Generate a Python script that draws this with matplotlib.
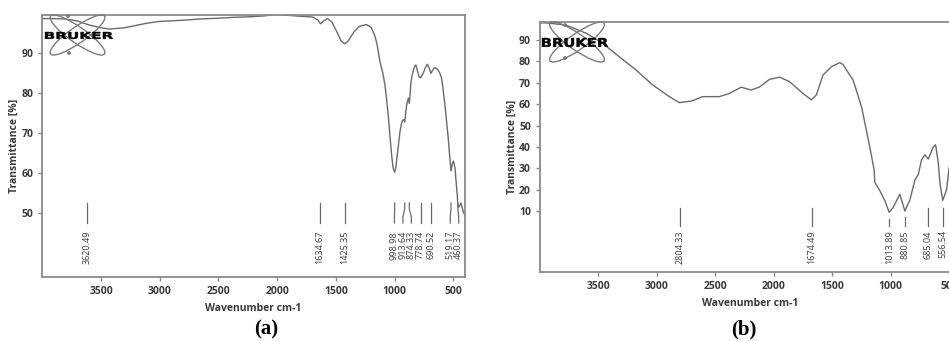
import numpy as np
import matplotlib.pyplot as plt
from matplotlib.patches import Ellipse, Circle, PathPatch
from matplotlib.textpath import TextPath
from matplotlib.font_manager import FontProperties
from matplotlib.transforms import Affine2D

# spectrum (a)
wn_a = [4000, 3900, 3800, 3700, 3600, 3500, 3430, 3300, 3200, 3100, 3000, 2800,
        2660, 2500, 2380, 2200, 2100, 2010, 1900, 1810, 1700, 1655, 1630, 1605,
        1570, 1535, 1495, 1455, 1425, 1395, 1345, 1300, 1238, 1200, 1170, 1150,
        1124, 1100, 1082, 1068, 1054, 1040, 1025, 1012, 999, 988, 977, 965, 954,
        940, 931, 922, 913, 905, 897, 883, 874, 867, 860, 850, 840, 828, 818, 805,
        790, 779, 768, 756, 740, 721, 705, 690, 676, 662, 645, 628, 615, 599, 585,
        571, 557, 543, 531, 519, 510, 500, 492, 485, 475, 466, 460, 449, 434, 425,
        415, 400]
tr_a = [98.6, 98.6, 98.5, 98.0, 97.0, 96.3, 96.0, 96.3, 96.9, 97.5, 97.9, 98.2,
        98.5, 98.7, 98.9, 99.1, 99.3, 99.7, 99.4, 99.2, 99.0, 98.3, 97.3, 98.0,
        98.6, 97.8, 95.5, 93.0, 92.3, 93.0, 95.3, 96.7, 97.1, 96.4, 94.5, 92.3,
        87.8, 85.0, 82.0, 78.5, 74.5, 69.5, 64.5, 61.2, 60.2, 61.5, 64.5, 67.5, 70.3,
        72.5, 73.2, 73.3, 72.8, 75.0, 77.0, 78.7, 77.4, 80.0, 82.8, 84.5, 85.7, 86.7,
        87.0, 85.5, 84.0, 83.8, 84.3, 84.9, 86.2, 87.2, 86.2, 84.9, 85.7, 86.3, 86.2,
        85.7, 85.0, 83.7, 80.5, 77.0, 73.0, 68.7, 64.5, 60.5, 62.0, 63.0, 62.2, 61.2,
        57.5, 54.5, 51.5, 51.6, 52.5, 51.5, 50.3, 49.5]
peaks_a = [3620.49, 1634.67, 1425.35, 998.98, 913.64, 874.33, 778.74, 690.52,
           519.17, 460.37]

# spectrum (b)
wn_b = [4000, 3950, 3779, 3600, 3466, 3323, 3180, 3037, 2894, 2809, 2700, 2609,
        2466, 2380, 2280, 2194, 2123, 2037, 1951, 1866, 1751, 1680, 1637, 1580,
        1508, 1437, 1409, 1351, 1323, 1251, 1180, 1143, 1137, 1094, 1051, 1014,
        980, 923, 880, 837, 794, 766, 737, 709, 680, 637, 617, 594, 580, 556, 523,
        503, 480, 450, 400]
tr_b = [98.0, 98.0, 97.0, 93.0, 88.5, 82.2, 76.0, 69.0, 63.5, 60.7, 61.5, 63.5,
        63.5, 65.0, 67.9, 66.6, 68.0, 71.6, 72.6, 70.5, 65.0, 62.0, 64.3, 73.6,
        77.5, 79.4, 78.5, 73.6, 71.3, 58.8, 40.0, 29.3, 23.4, 19.5, 14.8, 9.4,
        11.7, 17.9, 10.0, 15.2, 24.6, 27.0, 34.0, 36.3, 34.3, 40.0, 41.0, 32.4,
        23.0, 15.0, 20.0, 29.7, 35.0, 40.0, 42.0]
peaks_b = [2804.33, 1674.49, 1013.89, 880.85, 685.04, 556.54]

W, H = 949, 341
fig = plt.figure(figsize=(W / 100, H / 100), dpi=100)

gray = '#6a6a6a'
spine = '#8a8a8a'
txt = '#3a3a3a'


def setup(ax, yticks):
    ax.set_xlim(4000, 400)
    ax.set_xticks([3500, 3000, 2500, 2000, 1500, 1000, 500])
    ax.set_yticks(yticks)
    for s in ax.spines.values():
        s.set_color(spine)
        s.set_linewidth(1.3)
    ax.tick_params(colors=spine, labelcolor=txt, length=3, width=1, labelsize=7.5)
    for lab in ax.get_xticklabels() + ax.get_yticklabels():
        lab.set_fontweight('bold')
        lab.set_family('Open Sans')
    ax.set_xlabel('Wavenumber cm-1', fontsize=7.5, fontweight='bold', color=txt,
                  family='Open Sans', labelpad=4)
    ax.set_ylabel('Transmittance [%]', fontsize=7.5, fontweight='bold', color=txt,
                  family='Open Sans', labelpad=1)


def spread(pos, gap):
    # push peak labels apart so they do not overlap
    pos = list(pos)
    for _ in range(60):
        for i in range(len(pos) - 1):
            d = pos[i] - pos[i + 1]
            if d < gap:
                pos[i] += (gap - d) / 2
                pos[i + 1] -= (gap - d) / 2
    return pos


def logo(px_box, center, text_box, dots):
    x0, y0, x1, y1 = px_box
    lx = fig.add_axes([x0 / W, 1 - y1 / H, (x1 - x0) / W, (y1 - y0) / H])
    lx.set_xlim(0, x1 - x0)
    lx.set_ylim(0, y1 - y0)
    lx.axis('off')
    for ang in (35, -35):
        lx.add_patch(Ellipse(center, 66, 16, angle=ang, fill=False,
                             ec='#7a7a7a', lw=1.0))
    for p in dots:
        lx.add_patch(Circle(p, 1.2, color='#7a7a7a'))
    tp = TextPath((0, 0), 'BRUKER', size=10,
                  prop=FontProperties(family='DejaVu Sans', weight='bold'))
    e = tp.get_extents()
    tx0, ty0, tx1, ty1 = text_box
    tr = (Affine2D().translate(-e.x0, -e.y0)
          .scale((tx1 - tx0) / e.width, (ty1 - ty0) / e.height)
          .translate(tx0, ty0))
    lx.add_patch(PathPatch(tr.transform_path(tp), fc='black', ec='black', lw=0.3))


# panel (a)
ax1 = fig.add_axes([42.3 / W, 1 - 277 / H, 422.7 / W, 262 / H])
ax1.plot(wn_a, tr_a, color=gray, lw=1.0)
ax1.set_ylim(34, 99.5)
setup(ax1, [50, 60, 70, 80, 90])
lab_a = spread(peaks_a, 72)
for p, q in zip(peaks_a, lab_a):
    ax1.plot([p, p, q, q], [52.5, 51.0, 49.0, 47.5], color=gray, lw=0.9)
    ax1.text(q, 45.5, f'{p:.2f}', rotation=90, ha='center', va='top',
             fontsize=6.5, color=txt, family='Open Sans')
logo((42, 12, 116, 58), (35.5, 23), (3, 19, 71, 26), [(26, 42), (27, 5)])

# panel (b)
ax2 = fig.add_axes([540 / W, 1 - 272 / H, 421 / W, 250 / H])
ax2.plot(wn_b, tr_b, color=gray, lw=1.0)
ax2.set_ylim(-18.5, 98.4)
setup(ax2, [10, 20, 30, 40, 50, 60, 70, 80, 90])
for p in peaks_b:
    top = min(11.4, np.interp(p, wn_b[::-1], tr_b[::-1]) - 3)
    ax2.plot([p, p], [top, 3.0], color=gray, lw=0.9)
    ax2.text(p, 1.0, f'{p:.2f}', rotation=90, ha='center', va='top',
             fontsize=6.5, color=txt, family='Open Sans')
logo((538, 18, 614, 64), (39, 22), (4, 17, 70, 26), [(27, 39), (27, 6)])

fig.text(266 / W, 1 - 329 / H, '(a)', ha='center', va='center', fontsize=15,
         fontweight='bold', family='Liberation Serif')
fig.text(744 / W, 1 - 329 / H, '(b)', ha='center', va='center', fontsize=15,
         fontweight='bold', family='Liberation Serif')

fig.savefig('out.png', dpi=100)
